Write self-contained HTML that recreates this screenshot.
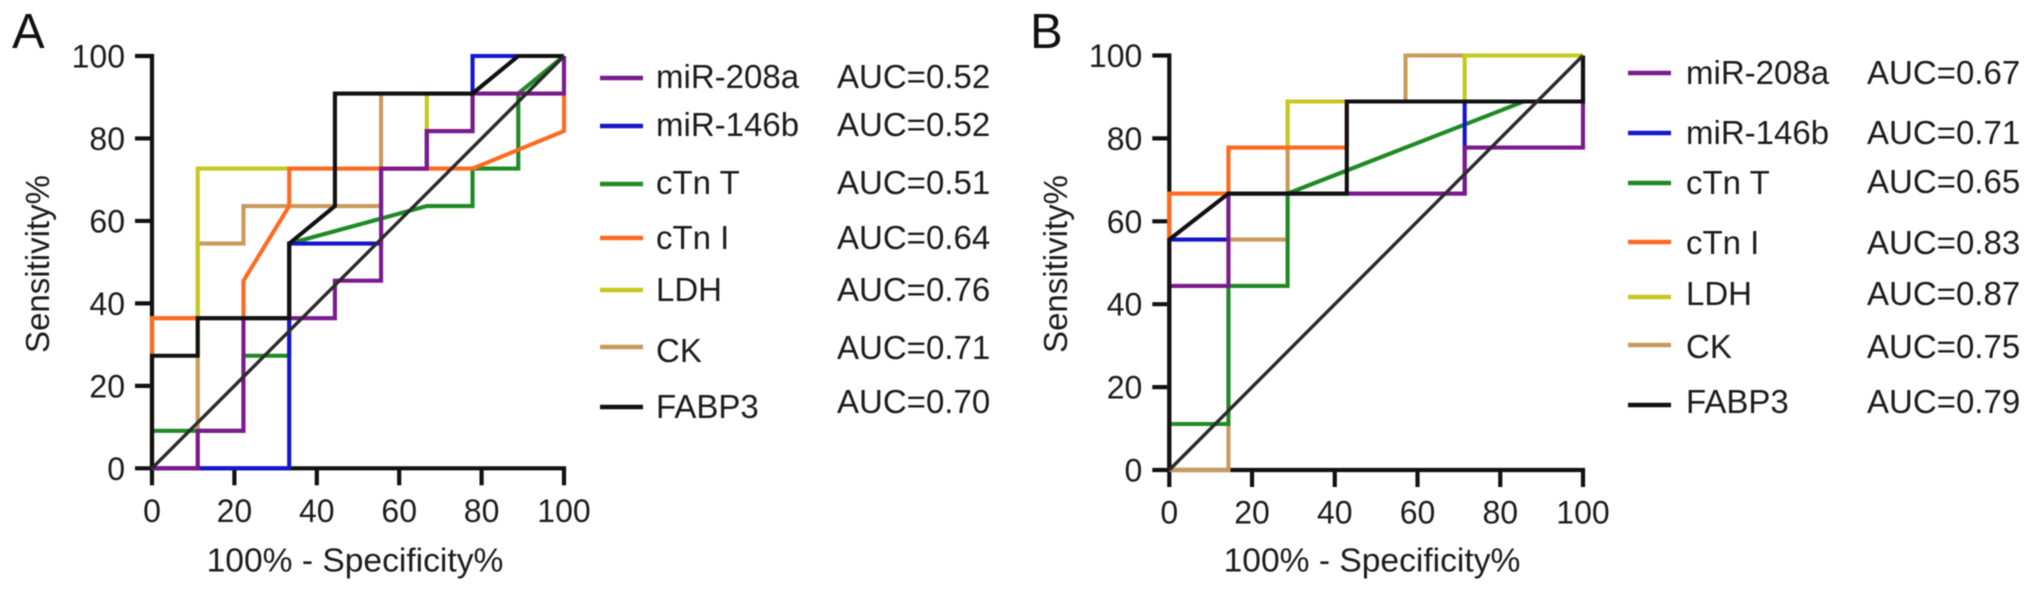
<!DOCTYPE html>
<html lang="en">
<head>
<meta charset="utf-8">
<title>ROC curves of cardiac biomarkers</title>
<style>
html,body{margin:0;padding:0;background:#fff;}
body{width:2032px;height:591px;overflow:hidden;}
svg{display:block;filter:blur(0.55px);}
text{font-family:"Liberation Sans",Arial,sans-serif;fill:#1c1c1c;font-size:33px;}
.tick{font-size:32px;}
.panel{font-size:49px;fill:#111;}
.sw{stroke-width:4.6;fill:none;}
</style>
</head>
<body>
<svg id="figure" xmlns="http://www.w3.org/2000/svg" width="2032" height="591" viewBox="0 0 2032 591">
  <rect width="2032" height="591" fill="#fff"/>
  <text class="panel" x="12" y="48">A</text>
  <text class="panel" x="1030" y="48">B</text>

  <g id="plot-a"></g>
  <g id="plot-b"></g>

  <g>
    <g><line class="sw" x1="600" x2="643" y1="78" y2="78" stroke="#7b1a8c"/><text x="656" y="88">miR-208a</text><text x="837" y="88">AUC=0.52</text></g>
    <g><line class="sw" x1="600" x2="643" y1="126" y2="126" stroke="#1616cc"/><text x="656" y="136">miR-146b</text><text x="837" y="136">AUC=0.52</text></g>
    <g><line class="sw" x1="600" x2="643" y1="184" y2="184" stroke="#1f8a24"/><text x="656" y="194">cTn T</text><text x="837" y="194">AUC=0.51</text></g>
    <g><line class="sw" x1="600" x2="643" y1="238" y2="238" stroke="#ff6a22"/><text x="656" y="249">cTn I</text><text x="837" y="249">AUC=0.64</text></g>
    <g><line class="sw" x1="600" x2="643" y1="290" y2="290" stroke="#c6c81e"/><text x="656" y="301">LDH</text><text x="837" y="301">AUC=0.76</text></g>
    <g><line class="sw" x1="600" x2="643" y1="347" y2="347" stroke="#c99a5b"/><text x="656" y="362">CK</text><text x="837" y="359">AUC=0.71</text></g>
    <g><line class="sw" x1="600" x2="643" y1="407" y2="407" stroke="#111"/><text x="656" y="418">FABP3</text><text x="837" y="413">AUC=0.70</text></g>
  </g>

  <g>
    <g><line class="sw" x1="1628" x2="1671" y1="73" y2="73" stroke="#7b1a8c"/><text x="1686" y="84">miR-208a</text><text x="1867" y="84">AUC=0.67</text></g>
    <g><line class="sw" x1="1628" x2="1671" y1="133" y2="133" stroke="#1616cc"/><text x="1686" y="144">miR-146b</text><text x="1867" y="144">AUC=0.71</text></g>
    <g><line class="sw" x1="1628" x2="1671" y1="183" y2="183" stroke="#1f8a24"/><text x="1686" y="194">cTn T</text><text x="1867" y="193">AUC=0.65</text></g>
    <g><line class="sw" x1="1628" x2="1671" y1="242" y2="242" stroke="#ff6a22"/><text x="1686" y="254">cTn I</text><text x="1867" y="254">AUC=0.83</text></g>
    <g><line class="sw" x1="1628" x2="1671" y1="297" y2="297" stroke="#c6c81e"/><text x="1686" y="305">LDH</text><text x="1867" y="305">AUC=0.87</text></g>
    <g><line class="sw" x1="1628" x2="1671" y1="345" y2="345" stroke="#c99a5b"/><text x="1686" y="358">CK</text><text x="1867" y="358">AUC=0.75</text></g>
    <g><line class="sw" x1="1628" x2="1671" y1="405" y2="405" stroke="#111"/><text x="1686" y="413">FABP3</text><text x="1867" y="413">AUC=0.79</text></g>
  </g>
</svg>

<script>
// Axis tick labels
const xTicks = [0, 20, 40, 60, 80, 100];
const yTicks = [0, 20, 40, 60, 80, 100];
const xAxisTitle = "100% - Specificity%";
const yAxisTitle = "Sensitivity%";

// Reference (chance) line
const chanceX = [0, 100];
const chanceY = [0, 100];

// Panel A: 100% - specificity (x) and sensitivity (y)
const aMir208aX = [0, 11.1, 11.1, 22.2, 22.2, 44.4, 44.4, 55.6, 55.6, 66.7, 66.7, 77.8, 77.8, 100, 100];
const aMir208aY = [0, 0, 9.1, 9.1, 36.4, 36.4, 45.5, 45.5, 72.7, 72.7, 81.8, 81.8, 90.9, 90.9, 100];
const aMir146bX = [0, 33.3, 33.3, 55.6, 55.6, 66.7, 66.7, 77.8, 77.8, 100];
const aMir146bY = [0, 0, 54.5, 54.5, 72.7, 72.7, 81.8, 81.8, 100, 100];
const aCtnTX = [0, 0, 22.2, 22.2, 33.3, 33.3, 66.7, 77.8, 77.8, 88.9, 88.9, 100];
const aCtnTY = [0, 9.1, 9.1, 27.3, 27.3, 54.5, 63.6, 63.6, 72.7, 72.7, 90.9, 100];
const aCtnIX = [0, 0, 22.2, 22.2, 33.3, 33.3, 77.8, 100, 100];
const aCtnIY = [0, 36.4, 36.4, 45.5, 63.6, 72.7, 72.7, 81.8, 100];
const aLdhX = [0, 0, 11.1, 11.1, 66.7, 66.7, 77.8];
const aLdhY = [0, 36.4, 36.4, 72.7, 72.7, 90.9, 90.9];
const aCkX = [0, 11.1, 11.1, 22.2, 22.2, 55.6, 55.6, 77.8];
const aCkY = [0, 0, 54.5, 54.5, 63.6, 63.6, 90.9, 90.9];
const aFabp3X = [0, 0, 11.1, 11.1, 33.3, 33.3, 44.4, 44.4, 77.8, 88.9, 100];
const aFabp3Y = [0, 27.3, 27.3, 36.4, 36.4, 54.5, 63.6, 90.9, 90.9, 100, 100];

// Panel B: 100% - specificity (x) and sensitivity (y)
const bMir208aX = [0, 0, 14.3, 14.3, 71.4, 71.4, 100, 100];
const bMir208aY = [0, 44.4, 44.4, 66.7, 66.7, 77.8, 77.8, 100];
const bMir146bX = [0, 0, 14.3, 14.3, 71.4, 71.4, 100, 100];
const bMir146bY = [0, 55.6, 55.6, 66.7, 66.7, 88.9, 88.9, 100];
const bCtnTX = [0, 0, 14.3, 14.3, 28.6, 28.6, 85.7, 100];
const bCtnTY = [0, 11.1, 11.1, 44.4, 44.4, 66.7, 88.9, 88.9];
const bCtnIX = [0, 0, 14.3, 14.3, 42.9, 42.9];
const bCtnIY = [0, 66.7, 66.7, 77.8, 77.8, 88.9];
const bLdhX = [0, 0, 14.3, 14.3, 28.6, 28.6, 71.4, 71.4, 100];
const bLdhY = [0, 66.7, 66.7, 77.8, 77.8, 88.9, 88.9, 100, 100];
const bCkX = [0, 14.3, 14.3, 28.6, 28.6, 57.1, 57.1, 71.4];
const bCkY = [0, 0, 55.6, 55.6, 88.9, 88.9, 100, 100];
const bFabp3X = [0, 0, 14.3, 42.9, 42.9, 100, 100];
const bFabp3Y = [0, 55.6, 66.7, 66.7, 88.9, 88.9, 100];

const SVG_NS = "http://www.w3.org/2000/svg";

function svgEl(tag, attrs, parent) {
  const el = document.createElementNS(SVG_NS, tag);
  for (const key in attrs) el.setAttribute(key, attrs[key]);
  parent.appendChild(el);
  return el;
}

function drawSeries(parent, name, xs, ys, color, width, scaleX, scaleY) {
  const points = xs.map((v, i) => scaleX(v).toFixed(2) + "," + scaleY(ys[i]).toFixed(2)).join(" ");
  const line = svgEl("polyline", {points: points, fill: "none", stroke: color, "stroke-width": width, "stroke-linejoin": "miter"}, parent);
  
  
}

function drawAxes(parent, box, scaleX, scaleY) {
  const axisAttrs = {stroke: "#111", "stroke-width": 4.2, fill: "none"};
  const yLine = svgEl("line", Object.assign({x1: box.x0, x2: box.x0, y1: scaleY(100) - 2.1, y2: scaleY(0) + 2.1}, axisAttrs), parent);
  
  
  const xLine = svgEl("line", Object.assign({x1: scaleX(0) - 2.1, x2: scaleX(100) + 2.1, y1: box.y0, y2: box.y0}, axisAttrs), parent);
  
  

  xTicks.forEach(function (t) {
    const mark = svgEl("line", Object.assign({x1: scaleX(t), x2: scaleX(t), y1: box.y0, y2: box.y0 + 17}, axisAttrs), parent);
    
    
    const label = svgEl("text", {x: scaleX(t), y: box.y0 + 53.5, "text-anchor": "middle", class: "tick"}, parent);
    label.textContent = String(t);
    
    
  });

  yTicks.forEach(function (t) {
    const mark = svgEl("line", Object.assign({x1: box.x0 - 17, x2: box.x0, y1: scaleY(t), y2: scaleY(t)}, axisAttrs), parent);
    
    
    const label = svgEl("text", {x: box.x0 - 27, y: scaleY(t) + 11.5, "text-anchor": "end", class: "tick"}, parent);
    label.textContent = String(t);
    
    
  });

  const xTitle = svgEl("text", {x: box.xTitleX, y: 571.5, "text-anchor": "middle", style: "font-size:33.6px"}, parent);
  xTitle.textContent = xAxisTitle;
  
  

  const yTitle = svgEl("text", {transform: "translate(" + box.yTitleX + ",264) rotate(-90)", "text-anchor": "middle"}, parent);
  yTitle.textContent = yAxisTitle;
  
  
}

function drawPanel(id, box, series) {
  const parent = document.getElementById(id);
  const scaleX = function (v) { return box.x0 + (v / 100) * (box.x100 - box.x0); };
  const scaleY = function (v) { return box.y0 + (v / 100) * (box.y100 - box.y0); };
  drawAxes(parent, box, scaleX, scaleY);
  series.forEach(function (s) {
    drawSeries(parent, s[0], s[1], s[2], s[3], 4.1, scaleX, scaleY);
  });
  drawSeries(parent, "chance-diagonal", chanceX, chanceY, "#2a2a2a", 3.4, scaleX, scaleY);
}

const colPurple = "#7b1a8c", colBlue = "#1616cc", colGreen = "#1f8a24";
const colOrange = "#ff6a22", colYellow = "#c6c81e", colTan = "#c99a5b", colBlack = "#111";

drawPanel("plot-a", {x0: 152, x100: 564, y0: 468.3, y100: 56, xTitleX: 355, yTitleX: 49}, [
  ["curve-ck", aCkX, aCkY, colTan],
  ["curve-ldh", aLdhX, aLdhY, colYellow],
  ["curve-ctn-t", aCtnTX, aCtnTY, colGreen],
  ["curve-mir-146b", aMir146bX, aMir146bY, colBlue],
  ["curve-ctn-i", aCtnIX, aCtnIY, colOrange],
  ["curve-mir-208a", aMir208aX, aMir208aY, colPurple],
  ["curve-fabp3", aFabp3X, aFabp3Y, colBlack]
]);

drawPanel("plot-b", {x0: 1169.3, x100: 1583, y0: 470, y100: 55.5, xTitleX: 1372, yTitleX: 1067}, [
  ["curve-ck", bCkX, bCkY, colTan],
  ["curve-ldh", bLdhX, bLdhY, colYellow],
  ["curve-ctn-t", bCtnTX, bCtnTY, colGreen],
  ["curve-mir-146b", bMir146bX, bMir146bY, colBlue],
  ["curve-ctn-i", bCtnIX, bCtnIY, colOrange],
  ["curve-mir-208a", bMir208aX, bMir208aY, colPurple],
  ["curve-fabp3", bFabp3X, bFabp3Y, colBlack]
]);
</script>
</body>
</html>
